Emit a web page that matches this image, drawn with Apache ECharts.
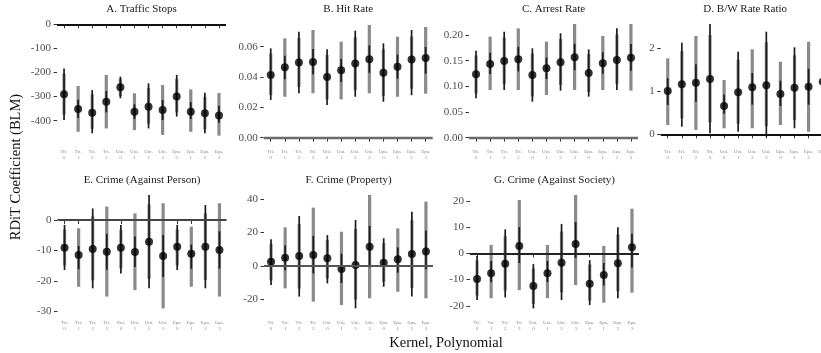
<!DOCTYPE html>
<html>
<head>
<meta charset="utf-8">
<script src="https://cdn.jsdelivr.net/npm/echarts@6/dist/echarts.min.js"></script>
<style>html,body{margin:0;padding:0;background:#fff;}#c{width:821px;height:353px;}</style>
</head>
<body>
<div id="c"></div>
<script>
// ---------- data ----------
const kernels = ['Tri.', 'Uni.', 'Epa.'];
const polynomials = ['0', '1', '2', '3'];

const titles = ['A. Traffic Stops', 'B. Hit Rate', 'C. Arrest Rate', 'D. B/W Rate Ratio',
  'E. Crime (Against Person)', 'F. Crime (Property)', 'G. Crime (Against Society)'];

const ticksA = [0, -100, -200, -300, -400];
const ticksB = [0, 0.02, 0.04, 0.06];
const ticksC = [0, 0.05, 0.10, 0.15, 0.20];
const ticksD = [0, 1, 2];
const ticksE = [0, -10, -20, -30];
const ticksF = [-20, 0, 20, 40];
const ticksG = [-20, -10, 0, 10, 20];

// A. Traffic Stops
const estA     = [-290, -351, -367, -321, -261, -363, -342, -356, -300, -363, -369, -378];
const grayLoA  = [-375, -446, -434, -432, -298, -439, -413, -459, -366, -446, -435, -462];
const grayHiA  = [-205, -256, -291, -210, -226, -286, -264, -252, -227, -270, -301, -285];
const blackLoA = [-397, -389, -452, -365, -307, -393, -432, -397, -383, -393, -452, -409];
const blackHiA = [-183, -313, -273, -277, -217, -332, -245, -314, -210, -323, -284, -338];

// B. Hit Rate
const estB     = [0.0413, 0.0464, 0.0495, 0.0499, 0.0400, 0.0444, 0.0490, 0.0517, 0.0429, 0.0468, 0.0515, 0.0525];
const grayLoB  = [0.0283, 0.0270, 0.0334, 0.0293, 0.0253, 0.0253, 0.0314, 0.0293, 0.0276, 0.0270, 0.0323, 0.0290];
const grayHiB  = [0.0555, 0.0655, 0.0658, 0.0710, 0.0546, 0.0633, 0.0662, 0.0743, 0.0583, 0.0666, 0.0667, 0.0730];
const blackLoB = [0.0249, 0.0386, 0.0293, 0.0418, 0.0216, 0.0367, 0.0270, 0.0428, 0.0237, 0.0389, 0.0280, 0.0422];
const blackHiB = [0.0589, 0.0540, 0.0699, 0.0585, 0.0583, 0.0519, 0.0706, 0.0608, 0.0622, 0.0547, 0.0710, 0.0598];

// C. Arrest Rate
const estC     = [0.1235, 0.1435, 0.1494, 0.1527, 0.1221, 0.1351, 0.1468, 0.1566, 0.1260, 0.1449, 0.1513, 0.1558];
const grayLoC  = [0.0860, 0.0929, 0.1043, 0.0929, 0.0805, 0.0832, 0.1028, 0.0929, 0.0891, 0.0929, 0.1049, 0.0916];
const grayHiC  = [0.1601, 0.1967, 0.1950, 0.2130, 0.1637, 0.1870, 0.1921, 0.2214, 0.1629, 0.1980, 0.2010, 0.2214];
const blackLoC = [0.0767, 0.1240, 0.0929, 0.1289, 0.0701, 0.1143, 0.0916, 0.1315, 0.0799, 0.1244, 0.0929, 0.1305];
const blackHiC = [0.1694, 0.1656, 0.2064, 0.1770, 0.1741, 0.1559, 0.2033, 0.1828, 0.1721, 0.1665, 0.2130, 0.1825];

// D. B/W Rate Ratio
const estD     = [1.007, 1.163, 1.200, 1.286, 0.658, 0.977, 1.093, 1.140, 0.937, 1.084, 1.107, 1.223];
const grayLoD  = [0.216, 0.372, 0.100, 0.277, 0.140, 0.246, 0.140, 0.188, 0.216, 0.328, 0.060, 0.320];
const grayHiD  = [1.767, 1.935, 2.286, 2.311, 1.263, 1.735, 1.977, 2.142, 1.688, 1.835, 2.153, 2.080];
const blackLoD = [0.681, 0.177, 0.756, 0.023, 0.477, 0.060, 0.691, -0.056, 0.658, 0.140, 0.688, 0.100];
const blackHiD = [1.302, 2.130, 1.630, 2.565, 0.926, 1.921, 1.426, 2.386, 1.246, 2.023, 1.525, 2.300];

// E. Crime (Against Person)
const estE     = [-9.1, -11.5, -9.5, -10.4, -9.1, -10.5, -7.1, -11.8, -8.8, -11.1, -8.8, -9.8];
const grayLoE  = [-14.9, -21.9, -19.8, -25.1, -15.9, -23.0, -19.3, -29.0, -14.9, -21.9, -19.7, -25.1];
const grayHiE  = [-3.1, -2.7, 1.2, 4.4, -3.2, 2.2, 5.1, 5.5, -3.1, -2.2, 2.2, 5.5];
const blackLoE = [-16.4, -16.1, -22.4, -16.3, -17.5, -15.4, -22.4, -18.7, -16.4, -16.0, -22.4, -15.9];
const blackHiE = [-1.6, -8.5, 3.8, -4.5, -1.6, -5.4, 8.2, -4.9, -1.6, -8.1, 4.9, -3.7];

// F. Crime (Property)
const estF     = [2.6, 5.0, 6.0, 6.6, 4.6, -1.8, 0.6, 11.5, 2.0, 4.0, 7.2, 8.6];
const grayLoF  = [-8.7, -13.4, -13.5, -21.3, -7.5, -23.3, -20.0, -19.3, -9.5, -15.4, -13.2, -19.3];
const grayHiF  = [13.3, 23.1, 25.1, 34.9, 15.6, 20.5, 22.2, 42.5, 13.7, 22.5, 27.4, 38.5];
const blackLoF = [-11.4, -2.5, -18.3, -4.4, -10.4, -10.2, -25.3, -0.8, -12.4, -4.0, -18.3, -2.0];
const blackHiF = [16.0, 12.2, 29.9, 18.0, 18.5, 7.4, 27.5, 24.0, 16.6, 11.1, 32.5, 21.2];

// G. Crime (Against Society)
const estG     = [-9.8, -7.6, -4.0, 2.8, -12.5, -7.6, -3.6, 3.5, -11.6, -8.3, -3.8, 2.3];
const grayLoG  = [-16.1, -17.1, -14.2, -14.0, -19.3, -17.1, -14.9, -12.1, -18.0, -18.8, -14.4, -15.0];
const grayHiG  = [-2.7, 3.2, 6.5, 20.3, -5.8, 3.2, 8.3, 22.2, -4.3, 2.8, 7.2, 17.0];
const blackLoG = [-17.8, -11.0, -16.8, -3.7, -21.0, -11.0, -17.8, -1.8, -19.7, -12.3, -17.1, -5.4];
const blackHiG = [-1.0, -2.9, 9.1, 10.0, -4.1, -2.9, 11.2, 11.9, -2.6, -3.7, 9.9, 7.4];

// ---------- build ----------
const categories = kernels.flatMap(k => polynomials.map(p => k + '\n' + p));

const panels = [
  {est: estA, gl: grayLoA, gh: grayHiA, bl: blackLoA, bh: blackHiA, ticks: ticksA, dec: 0},
  {est: estB, gl: grayLoB, gh: grayHiB, bl: blackLoB, bh: blackHiB, ticks: ticksB, dec: 2},
  {est: estC, gl: grayLoC, gh: grayHiC, bl: blackLoC, bh: blackHiC, ticks: ticksC, dec: 2},
  {est: estD, gl: grayLoD, gh: grayHiD, bl: blackLoD, bh: blackHiD, ticks: ticksD, dec: 0},
  {est: estE, gl: grayLoE, gh: grayHiE, bl: blackLoE, bh: blackHiE, ticks: ticksE, dec: 0},
  {est: estF, gl: grayLoF, gh: grayHiF, bl: blackLoF, bh: blackHiF, ticks: ticksF, dec: 0},
  {est: estG, gl: grayLoG, gh: grayHiG, bl: blackLoG, bh: blackHiG, ticks: ticksG, dec: 0}
];

// layout (pixels) and axis ranges
const W = 169;
const layout = [
  {left: 57,    top: 19.5, height: 123.5, min: -492.5,  max: 19.9,    hl: '#111', hw: 1.8},
  {left: 263.7, top: 19.5, height: 123.5, min: -0.00349, max: 0.07793, hl: '#6a6a6a', hw: 2.4},
  {left: 469,   top: 19.5, height: 123.5, min: -0.01032, max: 0.23018, hl: '#6a6a6a', hw: 2.4},
  {left: 660.7, top: 19.5, height: 123.5, min: -0.2023, max: 2.6698,  hl: '#111', hw: 1.8},
  {left: 57.5,  top: 190,  height: 124,   min: -30.82,  max: 9.84,    hl: '#444', hw: 2.0},
  {left: 264,   top: 190,  height: 124,   min: -28.71,  max: 45.45,   hl: '#555', hw: 2.2},
  {left: 470,   top: 190,  height: 124,   min: -23.12,  max: 24.11,   hl: '#222', hw: 1.8}
];

const FONT = 'Liberation Serif';
const grids = [], xAxes = [], yAxes = [], series = [], graphics = [];

panels.forEach((p, i) => {
  const L = layout[i];
  grids.push({left: L.left, top: L.top, width: W, height: L.height, containLabel: false, outerBoundsMode: 'none'});
  xAxes.push({
    gridIndex: i, type: 'category', data: categories, boundaryGap: true,
    axisLine: {show: false},
    axisTick: {show: true, alignWithLabel: true, interval: 0, length: 4, lineStyle: {color: '#333', width: 1}},
    axisLabel: {interval: 0, fontSize: 5, lineHeight: 5.5, color: '#8a8a8a', margin: 6, fontFamily: FONT},
    splitLine: {show: false}
  });
  yAxes.push({
    gridIndex: i, type: 'value', min: L.min, max: L.max,
    axisLine: {show: false}, splitLine: {show: false},
    axisTick: {show: true, length: 3.5, lineStyle: {color: '#333', width: 1}, customValues: p.ticks},
    axisLabel: {customValues: p.ticks, fontFamily: FONT, fontSize: 11, color: '#4d4d4d', margin: 6,
      formatter: v => p.dec ? v.toFixed(p.dec) : String(Math.round(v))}
  });
  // reference line at zero
  series.push({
    type: 'line', xAxisIndex: i, yAxisIndex: i, data: [], z: 1, silent: true,
    markLine: {silent: true, symbol: ['none', 'none'], label: {show: false}, animation: false,
      lineStyle: {color: L.hl, width: L.hw, type: 'solid'}, data: [{yAxis: 0}]}
  });
  // intervals
  series.push({
    type: 'custom', xAxisIndex: i, yAxisIndex: i, z: 2, silent: true, clip: false,
    data: p.est.map((_, k) => [k, p.gl[k], p.gh[k], p.bl[k], p.bh[k]]),
    encode: {x: 0, y: [1, 2, 3, 4]},
    renderItem: (params, api) => {
      const x = api.value(0);
      const g1 = api.coord([x, api.value(1)]), g2 = api.coord([x, api.value(2)]);
      const b1 = api.coord([x, api.value(3)]), b2 = api.coord([x, api.value(4)]);
      return {type: 'group', children: [
        {type: 'line', shape: {x1: g1[0], y1: g1[1], x2: g2[0], y2: g2[1]}, style: {stroke: '#8a8a8a', lineWidth: 3.2}},
        {type: 'line', shape: {x1: b1[0], y1: b1[1], x2: b2[0], y2: b2[1]}, style: {stroke: '#1c1c1c', lineWidth: 1.7}}
      ]};
    }
  });
  // point estimates
  series.push({
    type: 'scatter', xAxisIndex: i, yAxisIndex: i, z: 3, silent: true, clip: false,
    data: p.est, symbol: 'circle', symbolSize: 8, itemStyle: {color: '#000'}
  });
  // panel title
  graphics.push({type: 'text', x: L.left + W / 2, y: i < 4 ? 9 : 180,
    style: {text: titles[i], font: '11px "' + FONT + '"', fill: '#1a1a1a', textAlign: 'center', textVerticalAlign: 'middle'}});
});

graphics.push({type: 'text', x: 446, y: 343,
  style: {text: 'Kernel, Polynomial', font: '14.5px "' + FONT + '"', fill: '#111', textAlign: 'center', textVerticalAlign: 'middle'}});
graphics.push({type: 'text', x: 16, y: 167, rotation: Math.PI / 2,
  style: {text: 'RDiT Coefficient (BLM)', font: '14.5px "' + FONT + '"', fill: '#111', textAlign: 'center', textVerticalAlign: 'middle'}});

const chart = echarts.init(document.getElementById('c'), null, {renderer: 'canvas'});
chart.setOption({
  animation: false,
  backgroundColor: '#fff',
  grid: grids, xAxis: xAxes, yAxis: yAxes, series: series, graphic: graphics
});
</script>
</body>
</html>
